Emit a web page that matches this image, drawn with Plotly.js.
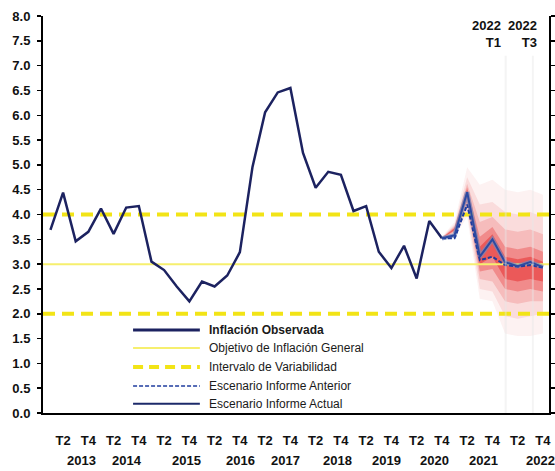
<!DOCTYPE html>
<html>
<head>
<meta charset="utf-8">
<script src="https://cdn.plot.ly/plotly-3.0.1.min.js"></script>
<style>html,body{margin:0;padding:0;background:#fff;}#chart{width:555px;height:471px;}</style>
</head>
<body>
<div id="chart"></div>
<script>
// Quarters 2013 T1 .. 2022 T4
const years = [2013, 2014, 2015, 2016, 2017, 2018, 2019, 2020, 2021, 2022];
const quarterNames = ['T1', 'T2', 'T3', 'T4'];
const quarters = [];
years.forEach(y => quarterNames.forEach(q => quarters.push(y + ' ' + q)));

// Observed inflation 2013 T1 .. 2020 T4
const observed = [3.69, 4.44, 3.46, 3.65, 4.12, 3.61, 4.14, 4.17,
                  3.05, 2.88, 2.55, 2.25, 2.65, 2.55, 2.77, 3.24,
                  4.96, 6.06, 6.46, 6.55, 5.24, 4.54, 4.86, 4.80,
                  4.07, 4.17, 3.25, 2.92, 3.37, 2.71, 3.87, 3.52];

// Scenarios 2020 T4 .. 2022 T4
const scenarioStart = '2020 T4';
const scenarioPrev = [3.52, 3.52, 4.20, 3.08, 3.15, 2.98, 2.95, 2.98, 2.93];
const scenarioCurr = [3.52, 3.58, 4.45, 3.15, 3.50, 3.04, 2.96, 3.04, 2.94];

// Fan chart bands (upper / lower) 2020 T4 .. 2022 T4
const band90Up = [3.55, 3.85, 4.95, 4.60, 4.70, 4.50, 4.45, 4.50, 4.40];
const band90Lo = [3.49, 3.55, 3.95, 2.30, 2.25, 1.60, 1.55, 1.55, 1.60];
const band75Up = [3.54, 3.80, 4.75, 4.20, 4.25, 4.05, 4.00, 4.05, 3.95];
const band75Lo = [3.50, 3.60, 4.05, 2.50, 2.45, 1.95, 1.90, 1.95, 2.00];
const band60Up = [3.53, 3.77, 4.62, 3.85, 3.95, 3.70, 3.65, 3.70, 3.60];
const band60Lo = [3.51, 3.64, 4.15, 2.70, 2.65, 2.25, 2.20, 2.25, 2.25];
const band40Up = [3.53, 3.74, 4.55, 3.55, 3.75, 3.35, 3.30, 3.35, 3.25];
const band40Lo = [3.52, 3.67, 4.25, 2.85, 2.90, 2.50, 2.45, 2.50, 2.45];
const band20Up = [3.52, 3.72, 4.50, 3.35, 3.60, 3.15, 3.10, 3.15, 3.05];
const band20Lo = [3.52, 3.69, 4.35, 3.00, 3.15, 2.70, 2.65, 2.70, 2.65];

// Reference levels
const targetLevel = 3.0;
const upperLevel = 4.0;
const lowerLevel = 2.0;

// Labels
const legendNames = ['Inflación Observada', 'Objetivo de Inflación General', 'Intervalo de Variabilidad',
                     'Escenario Informe Anterior', 'Escenario Informe Actual'];
const markerLabels = [['2022', 'T1'], ['2022', 'T3']];
const markerQuarters = ['2022 T1', '2022 T3'];

// ---- layout helpers ----
const xRange = [-0.59, 39.48];
const idx = q => quarters.indexOf(q);
const xObs = observed.map((v, i) => i);
const s0 = idx(scenarioStart);
const xScen = scenarioCurr.map((v, i) => s0 + i);

const traces = [];
const bandPairs = [[band90Lo, band90Up, 0.06], [band75Lo, band75Up, 0.1], [band60Lo, band60Up, 0.17],
                   [band40Lo, band40Up, 0.3], [band20Lo, band20Up, 0.45]];
bandPairs.forEach(([lo, up, a]) => {
  traces.push({x: xScen, y: lo, mode: 'lines', line: {width: 0, shape: 'linear'}, hoverinfo: 'skip', showlegend: false});
  traces.push({x: xScen, y: up, mode: 'lines', line: {width: 0}, fill: 'tonexty',
               fillcolor: 'rgba(228,28,28,' + a + ')', hoverinfo: 'skip', showlegend: false});
});

const yellowDash = {color: '#f2e416', width: 4, dash: '12px,7px'};
traces.push({x: xRange, y: [targetLevel, targetLevel], mode: 'lines', line: {color: '#f6ef6e', width: 2}, showlegend: false});
traces.push({x: xRange, y: [upperLevel, upperLevel], mode: 'lines', line: yellowDash, showlegend: false});
traces.push({x: xRange, y: [lowerLevel, lowerLevel], mode: 'lines', line: yellowDash, showlegend: false});

traces.push({x: xObs, y: observed, mode: 'lines', line: {color: '#1c2260', width: 2.5}, showlegend: false});
traces.push({x: xScen, y: scenarioCurr, mode: 'lines', line: {color: 'rgba(120,135,185,0.7)', width: 4.5}, showlegend: false, hoverinfo: 'skip'});
traces.push({x: xScen, y: scenarioPrev, mode: 'lines', line: {color: '#1f3c9e', width: 2, dash: '4px,2px'}, showlegend: false});
traces.push({x: xScen, y: scenarioCurr, mode: 'lines', line: {color: '#2c4aa2', width: 2}, showlegend: false});

// tick labels T2 / T4
const tickvals = [], ticktext = [];
quarters.forEach((q, i) => { const t = q.split(' ')[1]; if (t === 'T2' || t === 'T4') { tickvals.push(i); ticktext.push(t); } });

const yearPos = [2.42, 6.07, 10.74, 15.01, 18.65, 22.7, 26.65, 30.45, 34.33, 38.77];
const tickFont = {family: 'Liberation Sans, Arial, sans-serif', size: 13, color: '#111', weight: 'bold'};

const annotations = years.map((y, k) => ({
  text: String(y), x: yearPos[k], xref: 'x', y: -0.12, yref: 'paper',
  showarrow: false, xanchor: 'center', yanchor: 'middle', font: tickFont
}));
const markerOffset = [-0.17, 0.72];
markerLabels.forEach((lab, k) => {
  annotations.push({text: lab.join('<br>'), x: idx(markerQuarters[k]) + markerOffset[k], xref: 'x',
    y: 0.955, yref: 'paper', showarrow: false, xanchor: 'right', yanchor: 'middle', align: 'right', font: tickFont});
});

// manual legend
const shapes = [];
const legY = [0.209, 0.164, 0.116, 0.068, 0.023];
const legLines = [
  {color: '#1c2260', width: 3},
  {color: '#f6ef6e', width: 2},
  {color: '#f2e416', width: 4, dash: '10px,6px'},
  {color: '#1f3c9e', width: 1.6, dash: '4px,2px'},
  {color: '#1c2a6a', width: 2}
];
legendNames.forEach((name, k) => {
  shapes.push({type: 'line', xref: 'paper', yref: 'paper', x0: 0.178, x1: 0.310, y0: legY[k], y1: legY[k], line: legLines[k]});
  annotations.push({text: name, xref: 'paper', yref: 'paper', x: 0.324, y: legY[k], xanchor: 'left', yanchor: 'middle',
    showarrow: false, font: {family: 'Liberation Sans, Arial, sans-serif', size: 12, color: '#1a1a1a', weight: k === 0 ? 600 : 'normal'}});
});
markerQuarters.forEach((q, k) => {
  shapes.push({type: 'line', xref: 'x', yref: 'y', x0: idx(q) + [0.05, 0.2][k], x1: idx(q) + [0.05, 0.2][k], y0: 0, y1: 7.2,
    line: {color: 'rgba(230,230,230,0.45)', width: 2}, layer: 'above'});
});

const layout = {
  width: 555, height: 471,
  margin: {l: 43, r: 6, t: 16, b: 58},
  paper_bgcolor: '#fff', plot_bgcolor: '#fff',
  showlegend: false,
  xaxis: {range: xRange, showgrid: false, zeroline: false, showline: true, linecolor: '#000', linewidth: 2,
          tickvals: tickvals, ticktext: ticktext, ticks: '', tickfont: tickFont, ticklabelstandoff: 14},
  yaxis: {range: [0, 8], dtick: 0.5, tickformat: '.1f', showgrid: false, zeroline: false, showline: true,
          linecolor: '#000', linewidth: 2, ticks: 'outside', ticklen: 4, tickwidth: 1.5, tickcolor: '#000',
          mirror: 'ticks', tickfont: tickFont, ticklabelstandoff: 4},
  annotations: annotations,
  shapes: shapes
};

Plotly.newPlot('chart', traces, layout, {staticPlot: true, displayModeBar: false});
</script>
</body>
</html>
